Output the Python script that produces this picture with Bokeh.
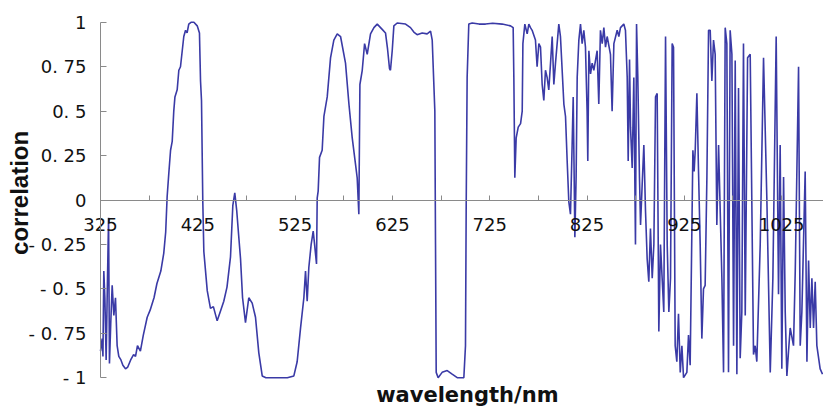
import math
from bokeh.plotting import figure
from bokeh.models import Range1d, LinearAxis, FixedTicker, Label
from bokeh.embed import file_html
from bokeh.resources import INLINE

wavelength = [
    325, 326.7, 327.5, 328.4, 329.5, 330.8, 332, 333.3, 334.2, 335.5, 337, 338.7, 340.4, 342.1, 343.8,
    346, 348, 350.7, 353, 356, 359, 361, 363, 366, 369, 373, 376, 380, 383, 387, 390, 392, 393.5,
    395.2, 397, 398.7, 400.3, 401.5, 403.8, 405.5, 407.2, 409, 410.6, 412.4, 414, 415.7, 418, 421,
    424.4, 426.7, 427.8, 428.8, 430.1, 431.2, 434.7, 438, 441, 444.9, 448, 451.7, 455, 458.6, 461,
    463, 465, 467, 468.9, 471, 474, 477.4, 480.9, 484.3, 487.7, 491.2, 495, 503, 510, 517, 523.7,
    527.1, 530.6, 534, 535.7, 537.4, 539.1, 541.5, 543.6, 545, 547, 547.7, 548.7, 550.1, 552.8,
    554.6, 558, 561.4, 564.8, 568.3, 571.7, 576.8, 580.3, 583.7, 587.1, 588.8, 590.5, 591.6, 594,
    596.4, 599.1, 602.5, 606, 609.4, 614.5, 617.9, 620, 622, 623, 624.8, 626.5, 629.9, 638.5, 643.6,
    647, 650.4, 655.6, 660.7, 664.2, 665.9, 668.6, 669.3, 670, 672, 676.1, 681.3, 686.4, 691.6,
    698.4, 700.1, 700.8, 701.8, 703.5, 707, 714, 720.7, 728, 737.8, 746.4, 749.1, 749.8, 750.8,
    752.2, 754.3, 756.7, 758.4, 759.1, 761.1, 763.5, 765.2, 766.9, 768.6,
    772.0, 773.7, 775.5, 777.2, 778.9, 780.6, 782.3, 784.0, 785.7, 787.5, 789.2, 790.9, 792.6,
    796.0, 797.7, 801.2, 802.9, 804.6, 806.3, 808.0, 809.7, 810.8, 811.8, 812.5, 813.8, 814.9,
    816.6, 818.3, 820.0, 821.7, 823.4, 825.1, 825.8, 826.9, 828.6, 830.3, 832.0, 835.4, 837.1,
    838.8, 840.6, 842.3, 844.0, 845.7, 849.1, 850.8, 852.6, 856.0, 857.7, 859.4, 862.8, 864.5,
    866.3, 867.3, 868.7, 869.7, 871.4, 873.1, 874.8, 875.9, 877.2, 878.9, 880.0, 881.7, 883.4,
    885.1, 886.8, 888.5, 890.2, 892.0, 893.7, 895.4, 897.1, 898.8, 900.5, 902.2, 903.9, 905.7,
    907.4, 909.1, 910.8, 912.5, 913.9, 915.6, 917.3, 919.0, 920.8, 922.5, 924.2, 927.6, 929.3,
    931.0, 933.8, 935.1, 936.2, 937.9, 939.6, 941.3, 943.0, 944.7, 946.4, 948.2, 949.9, 951.6,
    953.3, 955.0, 956.7, 958.4, 960.2, 963.6, 965.3, 967.0, 968.7, 970.4, 972.1, 973.9, 975.6,
    977.3, 979.0, 980.7, 982.4, 984.1, 985.8, 987.6, 990.0, 992.7, 996.1, 997.8, 999.5, 1003.0,
    1006.4, 1009.8, 1013.3, 1016.0, 1019.4, 1021.8, 1023.5, 1025.2, 1027.0, 1028.7, 1030.4,
    1032.1, 1033.8, 1037.2, 1039.0, 1042.4, 1044.1, 1045.8, 1049.2, 1051.0, 1052.7, 1054.4,
    1056.1, 1057.8, 1059.5, 1061.2, 1064.6, 1067.0,
]

correlation = [
    -0.85, -0.78, -0.88, -0.40, -0.55, -0.90, -0.50, -0.10, -0.92, -0.70, -0.48, -0.65, -0.55, -0.82, -0.88,
    -0.90, -0.93, -0.95, -0.94, -0.90, -0.87, -0.88, -0.82, -0.85, -0.76, -0.66, -0.62, -0.55, -0.47, -0.40, -0.30, -0.18, 0.02,
    0.15, 0.28, 0.33, 0.50, 0.58, 0.62, 0.73, 0.75, 0.84, 0.92, 0.955, 0.94, 0.99, 1.0, 1.0,
    0.98, 0.94, 0.67, 0.56, 0.0, -0.29, -0.51, -0.61, -0.60, -0.68, -0.63, -0.57, -0.49, -0.32, -0.03,
    0.04, -0.06, -0.20, -0.33, -0.55, -0.69, -0.55, -0.58, -0.66, -0.86, -0.99, -1.0, -1.0, -1.0, -1.0, -0.99,
    -0.91, -0.72, -0.55, -0.40, -0.57, -0.38, -0.25, -0.175, -0.25, -0.36, 0.01, 0.05, 0.24, 0.28,
    0.47, 0.58, 0.80, 0.90, 0.935, 0.92, 0.77, 0.54, 0.35, 0.20, 0.125, -0.08, 0.65, 0.73,
    0.88, 0.82, 0.935, 0.97, 0.99, 0.96, 0.94, 0.85, 0.74, 0.73, 0.84, 0.98, 0.996, 0.99, 0.97,
    0.945, 0.93, 0.94, 0.935, 0.95, 0.90, 0.50, -0.25, -0.97, -1.0, -0.97, -0.96, -0.98, -1.0,
    -1.0, -0.82, -0.06, 0.69, 0.99, 0.996, 0.99, 0.99, 0.995, 0.99, 0.98, 0.97, 0.69, 0.125,
    0.35, 0.41, 0.43, 0.50, 0.88, 0.99, 0.935, 0.99, 0.97, 0.955,
    0.90, 0.75, 0.88, 0.86, 0.65, 0.56, 0.73, 0.69, 0.62, 0.77, 0.92, 0.65, 0.77,
    0.99, 0.92, 0.54, 0.47, 0.22, -0.01, -0.08, 0.31, 0.58, 0.13, -0.21, 0.13, 0.69,
    0.90, 0.99, 0.88, 0.955, 0.86, 0.50, 0.22, 0.84, 0.71, 0.77, 0.73, 0.84, 0.54,
    0.955, 0.88, 0.97, 0.86, 0.92, 0.82, 0.50, 0.88, 0.955, 0.92, 0.97, 0.99, 0.955,
    0.69, 0.22, 0.79, 0.41, 0.18, 0.69, -0.25, 0.99, 0.69, 0.13, -0.14, 0.09, 0.31,
    -0.06, -0.33, -0.46, -0.16, -0.44, -0.25, 0.58, 0.60, -0.74, -0.25, -0.44, -0.63, 0.92,
    -0.25, -0.63, -0.44, 0.88, 0.86, -0.82, -0.91, -0.64, -0.97, -0.82, -1.0, -0.97, -0.76,
    -0.93, 0.28, 0.16, 0.28, 0.60, 0.16, -0.25, -0.78, -0.50, -0.48, 0.13, 0.955, 0.955,
    0.67, 0.90, 0.82, -0.14, 0.31, -0.44, -0.97, 0.97, 0.88, -0.97, 0.955, 0.82, -0.82,
    0.785, -0.98, 0.63, -0.89, -0.63, 0.88, -0.65, 0.80, 0.82, -0.87, -0.82, -0.91, -0.25,
    0.80, 0.01, -0.97, -0.44, 0.92, -0.53, 0.31, -0.95, 0.13, -0.63, -0.99,
    -0.85, -0.72, -0.82, -0.40, 0.75, -0.82, -0.63, 0.16, -0.91, -0.34, -0.72,
    -0.44, -0.72, -0.46, -0.82, -0.95, -0.98,
]

x_major_ticks = [325, 425, 525, 625, 725, 825, 925, 1025]
x_minor_ticks = [375, 475, 575, 675, 775, 875, 975]
y_ticks = [-1, -0.75, -0.5, -0.25, 0, 0.25, 0.5, 0.75, 1]
y_tick_labels = ["- 1", "- 0. 75", "- 0. 5", "- 0. 25", "0", "0. 25", "0. 5", "0. 75", "1"]
x_title = "wavelength/nm"
y_title = "correlation"

# the frame spans the whole canvas; both axes sit at fixed data locations
p = figure(width=823, height=407, output_backend="svg", toolbar_location=None,
           x_range=Range1d(222.23, 1068.03), y_range=Range1d(-1.1677, 1.1227),
           x_axis_location=None, y_axis_location=None,
           min_border_left=0, min_border_right=0, min_border_top=0, min_border_bottom=0)
p.outline_line_color = None
p.xgrid.visible = False
p.ygrid.visible = False
p.background_fill_color = "white"
p.border_fill_color = "white"

p.line(wavelength, correlation, line_color="#3a3aa6", line_width=1.6)

yax = LinearAxis(fixed_location=325, bounds=(-1, 1))
yax.ticker = FixedTicker(ticks=y_ticks, minor_ticks=[])
yax.major_label_overrides = {t: s for t, s in zip(y_ticks, y_tick_labels)}
yax.axis_line_color = "#8a8a8a"
yax.major_tick_line_color = "#8a8a8a"
yax.major_tick_in = 6
yax.major_tick_out = 0
yax.minor_tick_line_color = None
yax.major_label_standoff = 14
yax.major_label_text_font = "DejaVu Sans"
yax.major_label_text_font_size = "18px"
yax.major_label_text_color = "#111111"
p.add_layout(yax, "left")

xax = LinearAxis(fixed_location=0, bounds=(325, 1068))
xax.ticker = FixedTicker(ticks=x_major_ticks, minor_ticks=x_minor_ticks)
xax.axis_line_color = "#8a8a8a"
xax.major_tick_line_color = "#8a8a8a"
xax.minor_tick_line_color = "#8a8a8a"
xax.major_tick_in = 5
xax.major_tick_out = 0
xax.minor_tick_in = 5
xax.minor_tick_out = 0
xax.major_label_standoff = 18
xax.major_label_text_font = "DejaVu Sans"
xax.major_label_text_font_size = "18px"
xax.major_label_text_color = "#111111"
p.add_layout(xax, "below")

ylab = Label(x=241.8, y=0.04, text=y_title,
             angle=math.pi / 2, text_align="center", text_baseline="middle",
             text_font="Liberation Sans", text_font_style="bold", text_font_size="24px",
             text_color="#111111")
xlab = Label(x=702.0, y=-1.095, text=x_title,
             text_align="center", text_baseline="alphabetic",
             text_font="DejaVu Sans", text_font_style="bold", text_font_size="21px",
             text_color="#111111")
p.add_layout(ylab)
p.add_layout(xlab)

open("out.html", "w").write(file_html(p, INLINE))
